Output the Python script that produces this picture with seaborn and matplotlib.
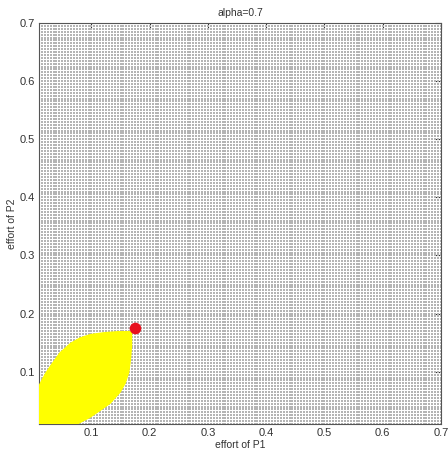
import numpy as np
import pandas as pd
import matplotlib
matplotlib.use("Agg")
import matplotlib.pyplot as plt
import seaborn as sns

# ---- data ----
title = "alpha=0.7"
xlabel = "effort of P1"
ylabel = "effort of P2"
grid_start, grid_stop, grid_step = 0.01, 0.70, 0.005   # sampled effort grid
# upper-left boundary of the yellow (feasible) region, read from the picture
lens_x = [0.000, 0.005, 0.010, 0.020, 0.030, 0.045, 0.064, 0.080, 0.098, 0.120, 0.145, 0.170]
lens_y = [0.000, 0.063, 0.078, 0.097, 0.112, 0.133, 0.150, 0.159, 0.165, 0.168, 0.170, 0.170]
# equilibrium point
eq_x = [0.175]
eq_y = [0.175]
xticks = [0.1, 0.2, 0.3, 0.4, 0.5, 0.6, 0.7]
yticks = [0.1, 0.2, 0.3, 0.4, 0.5, 0.6, 0.7]

sns.set_style("white")
plt.rcParams['font.family'] = ['Liberation Sans', 'DejaVu Sans']

fig = plt.figure(figsize=(4.48, 4.5), dpi=100)
ax = fig.add_axes([39/448, 1-424/450, (441-39)/448, (424-23)/450])

g = np.arange(grid_start, grid_stop + grid_step/2, grid_step)
gx, gy = np.meshgrid(g, g)
df = pd.DataFrame({"x": gx.ravel(), "y": gy.ravel()})
sns.scatterplot(data=df, x="x", y="y", ax=ax, marker="s", s=2.6, color="#b4b4b4",
                linewidth=0, legend=False, rasterized=True)

# yellow lens (upper curve + mirrored lower curve)
poly_x = list(lens_x) + list(lens_y[::-1])
poly_y = list(lens_y) + list(lens_x[::-1])
ax.fill(poly_x, poly_y, color="#ffff00", zorder=3, linewidth=0)

sns.scatterplot(x=eq_x, y=eq_y, ax=ax, color="#e8101e", s=70, linewidth=0, zorder=4)

ax.set_xlim(0.01, 0.70)
ax.set_ylim(0.01, 0.70)
ax.set_xticks(xticks)
ax.set_yticks(yticks)
ax.set_xticklabels([f"{t:g}" for t in xticks])
ax.set_yticklabels([f"{t:g}" for t in yticks])
ax.tick_params(direction="in", length=4, width=0.8, top=True, right=True,
               labelsize=8, colors="#333333", pad=3)
for sp in ax.spines.values():
    sp.set_color("#555555")
    sp.set_linewidth(0.8)
ax.set_xlabel(xlabel, fontsize=7.5, color="#333333", labelpad=1)
ax.set_ylabel(ylabel, fontsize=7.5, color="#333333", labelpad=2)
ax.set_title(title, fontsize=7.5, color="#333333", pad=5)

fig.savefig("out.png", dpi=100)
